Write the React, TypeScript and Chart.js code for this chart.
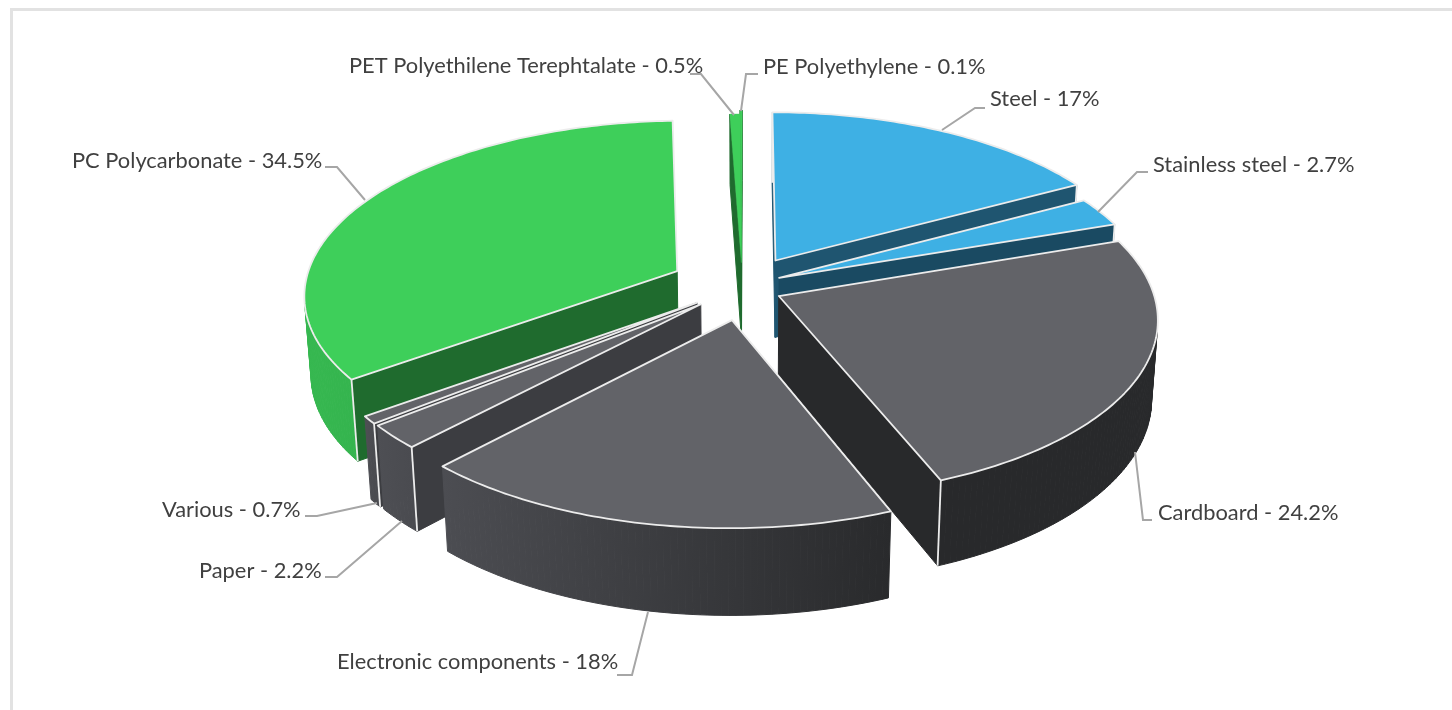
import React, { useEffect, useRef } from "react";
import { Chart, registerables } from "chart.js";

Chart.register(...registerables);

const categories = [
  "Steel",
  "Stainless steel",
  "Cardboard",
  "Electronic components",
  "Paper",
  "Various",
  "PC Polycarbonate",
  "PET Polyethilene Terephtalate",
  "PE Polyethylene",
];
const shares = [17, 2.7, 24.2, 18, 2.2, 0.7, 34.5, 0.5, 0.1];

const topColors = ["#3eb0e4", "#3eb0e4", "#626368", "#626368", "#626368", "#626368", "#3ecf5a", "#3ecf5a", "#3ecf5a"];
const edgeColors = ["#1f5570", "#1a4a62", "#28292b", "#3c3d41", "#3c3d41", "#3c3d41", "#1f6b2e", "#1f6b2e", "#1f6b2e"];
const rimLeft = ["#1f5570", "#1a4a62", "#28292b", "#4c4d52", "#4e4f54", "#4e4f54", "#36b850", "#1f6b2e", "#1f6b2e"];
const rimRight = ["#1f5570", "#1a4a62", "#28292b", "#292a2c", "#4a4b50", "#4a4b50", "#2c9c43", "#1f6b2e", "#1f6b2e"];
const explodeU = [0.075, 0.084, 0.082, -0.042, -0.125, -0.135, -0.192, -0.018, -0.018];
const explodeV = [-0.133, -0.03, 0.075, 0.21, 0.122, 0.112, -0.07, -0.12, -0.15];
const paintOrder = [8, 7, 0, 1, 6, 5, 4, 2, 3];

// label box: text left, text middle y, then leader polyline
const labelLayout: { x: number; y: number; line: number[][] }[] = [
  { x: 990, y: 99, line: [[985, 108], [975, 108], [942, 130]] },
  { x: 1153, y: 165, line: [[1148, 172], [1137, 172], [1098, 212]] },
  { x: 1158, y: 513, line: [[1152, 520], [1143, 520], [1135, 452]] },
  { x: 337, y: 662, line: [[617, 675], [632, 675], [648, 612]] },
  { x: 199, y: 571, line: [[325, 577], [337, 577], [402, 521]] },
  { x: 162, y: 510, line: [[305, 516], [317, 516], [377, 503]] },
  { x: 72, y: 161, line: [[325, 167], [337, 167], [365, 200]] },
  { x: 349, y: 66, line: [[690, 74], [701, 74], [734, 115]] },
  { x: 763, y: 67, line: [[758, 74], [746, 74], [741, 111]] },
];

const CX = 748, CY = 283, RX = 372, RY = 172, K = 0.125, DROP = 79, M = 0.015;

function project(u: number, v: number, z: number) {
  const w = 1 - K * v + M * z;
  return { x: CX + (RX * u) / w, y: CY + (RY * v + DROP * z) / w };
}

function polygon(ctx: CanvasRenderingContext2D, pts: { x: number; y: number }[]) {
  ctx.beginPath();
  pts.forEach((p, i) => (i ? ctx.lineTo(p.x, p.y) : ctx.moveTo(p.x, p.y)));
  ctx.closePath();
}

function signedArea(pts: { x: number; y: number }[]) {
  let s = 0;
  pts.forEach((p, i) => {
    const q = pts[(i + 1) % pts.length];
    s += p.x * q.y - q.x * p.y;
  });
  return s;
}

function drawSlice(ctx: CanvasRenderingContext2D, i: number, start: number, end: number) {
  const ox = explodeU[i];
  const oy = explodeV[i];
  const steps = Math.max(2, Math.ceil((end - start) * 60));
  const plan: [number, number][] = [[ox, oy]];
  for (let s = 0; s <= steps; s++) {
    const a = start + ((end - start) * s) / steps;
    plan.push([ox + Math.cos(a), oy + Math.sin(a)]);
  }
  const top = plan.map(([u, v]) => project(u, v, 0));
  const bot = plan.map(([u, v]) => project(u, v, 1));
  const n = plan.length;
  const thin = end - start < 0.035;

  const wall = (a: number, b: number) => [top[a], top[b], bot[b], bot[a]];

  // outer rim
  const xs = top.slice(1).map((p) => p.x);
  const grad = ctx.createLinearGradient(Math.min(...xs), 0, Math.max(...xs) + 0.01, 0);
  grad.addColorStop(0, rimLeft[i]);
  grad.addColorStop(1, rimRight[i]);
  ctx.fillStyle = grad;
  ctx.strokeStyle = grad;
  ctx.lineWidth = 1;
  for (let s = 1; s < n - 1; s++) {
    const q = wall(s, s + 1);
    if (signedArea(q) < 0) {
      polygon(ctx, q);
      ctx.fill();
      ctx.stroke();
    }
  }
  // radial walls
  const startWall = wall(0, 1);
  const endWall = wall(n - 1, 0);
  ctx.fillStyle = edgeColors[i];
  ctx.strokeStyle = edgeColors[i];
  [startWall, endWall].forEach((q) => {
    if (signedArea(q) < 0) {
      polygon(ctx, q);
      ctx.fill();
      ctx.stroke();
    }
  });
  // corner highlights
  ctx.strokeStyle = "#ececec";
  ctx.lineWidth = 1.8;
  const corner = (k: number) => {
    ctx.beginPath();
    ctx.moveTo(top[k].x, top[k].y);
    ctx.lineTo(bot[k].x, bot[k].y);
    ctx.stroke();
  };
  if (!thin && signedArea(startWall) < 0) corner(1);
  if (!thin && signedArea(endWall) < 0) corner(n - 1);
  // top face
  ctx.fillStyle = topColors[i];
  polygon(ctx, top);
  ctx.fill();
  if (thin) {
    ctx.strokeStyle = topColors[i];
    ctx.lineWidth = 0.4;
  }
  ctx.stroke();
}

const pie3d = {
  id: "pie3d",
  beforeDatasetsDraw(chart: any) {
    const ctx: CanvasRenderingContext2D = chart.ctx;
    const arcs = chart.getDatasetMeta(0).data;
    ctx.save();
    ctx.lineJoin = "round";
    paintOrder.forEach((i) => {
      const a = arcs[i].getProps(["startAngle", "endAngle"], true);
      drawSlice(ctx, i, a.startAngle, a.endAngle);
    });
    ctx.restore();
    return false;
  },
  afterDraw(chart: any) {
    const ctx: CanvasRenderingContext2D = chart.ctx;
    ctx.save();
    // frame
    ctx.fillStyle = "#e2e2e2";
    ctx.fillRect(10, 8, 1442, 3);
    ctx.fillRect(10, 8, 3, 702);
    ctx.font = '21.85px Lato, "Open Sans", sans-serif';
    ctx.textBaseline = "middle";
    categories.forEach((c, i) => {
      const l = labelLayout[i];
      ctx.strokeStyle = "#a6a6a6";
      ctx.lineWidth = 2;
      ctx.beginPath();
      l.line.forEach(([x, y], k) => (k ? ctx.lineTo(x, y) : ctx.moveTo(x, y)));
      ctx.stroke();
      ctx.fillStyle = "#404040";
      ctx.fillText(`${c} - ${shares[i]}%`, l.x, l.y);
    });
    ctx.restore();
  },
};

export default function App() {
  const ref = useRef<HTMLCanvasElement>(null);
  useEffect(() => {
    document.body.style.margin = "0";
    document.body.style.background = "#ffffff";
    const chart = new Chart(ref.current!, {
      type: "pie",
      data: {
        labels: categories,
        datasets: [{ data: shares, backgroundColor: topColors, borderWidth: 0 }],
      },
      options: {
        animation: false,
        responsive: false,
        plugins: { legend: { display: false }, tooltip: { enabled: false } },
      },
      plugins: [pie3d],
    } as any);
    return () => chart.destroy();
  }, []);
  return <canvas ref={ref} width={1452} height={710} style={{ display: "block" }} />;
}
